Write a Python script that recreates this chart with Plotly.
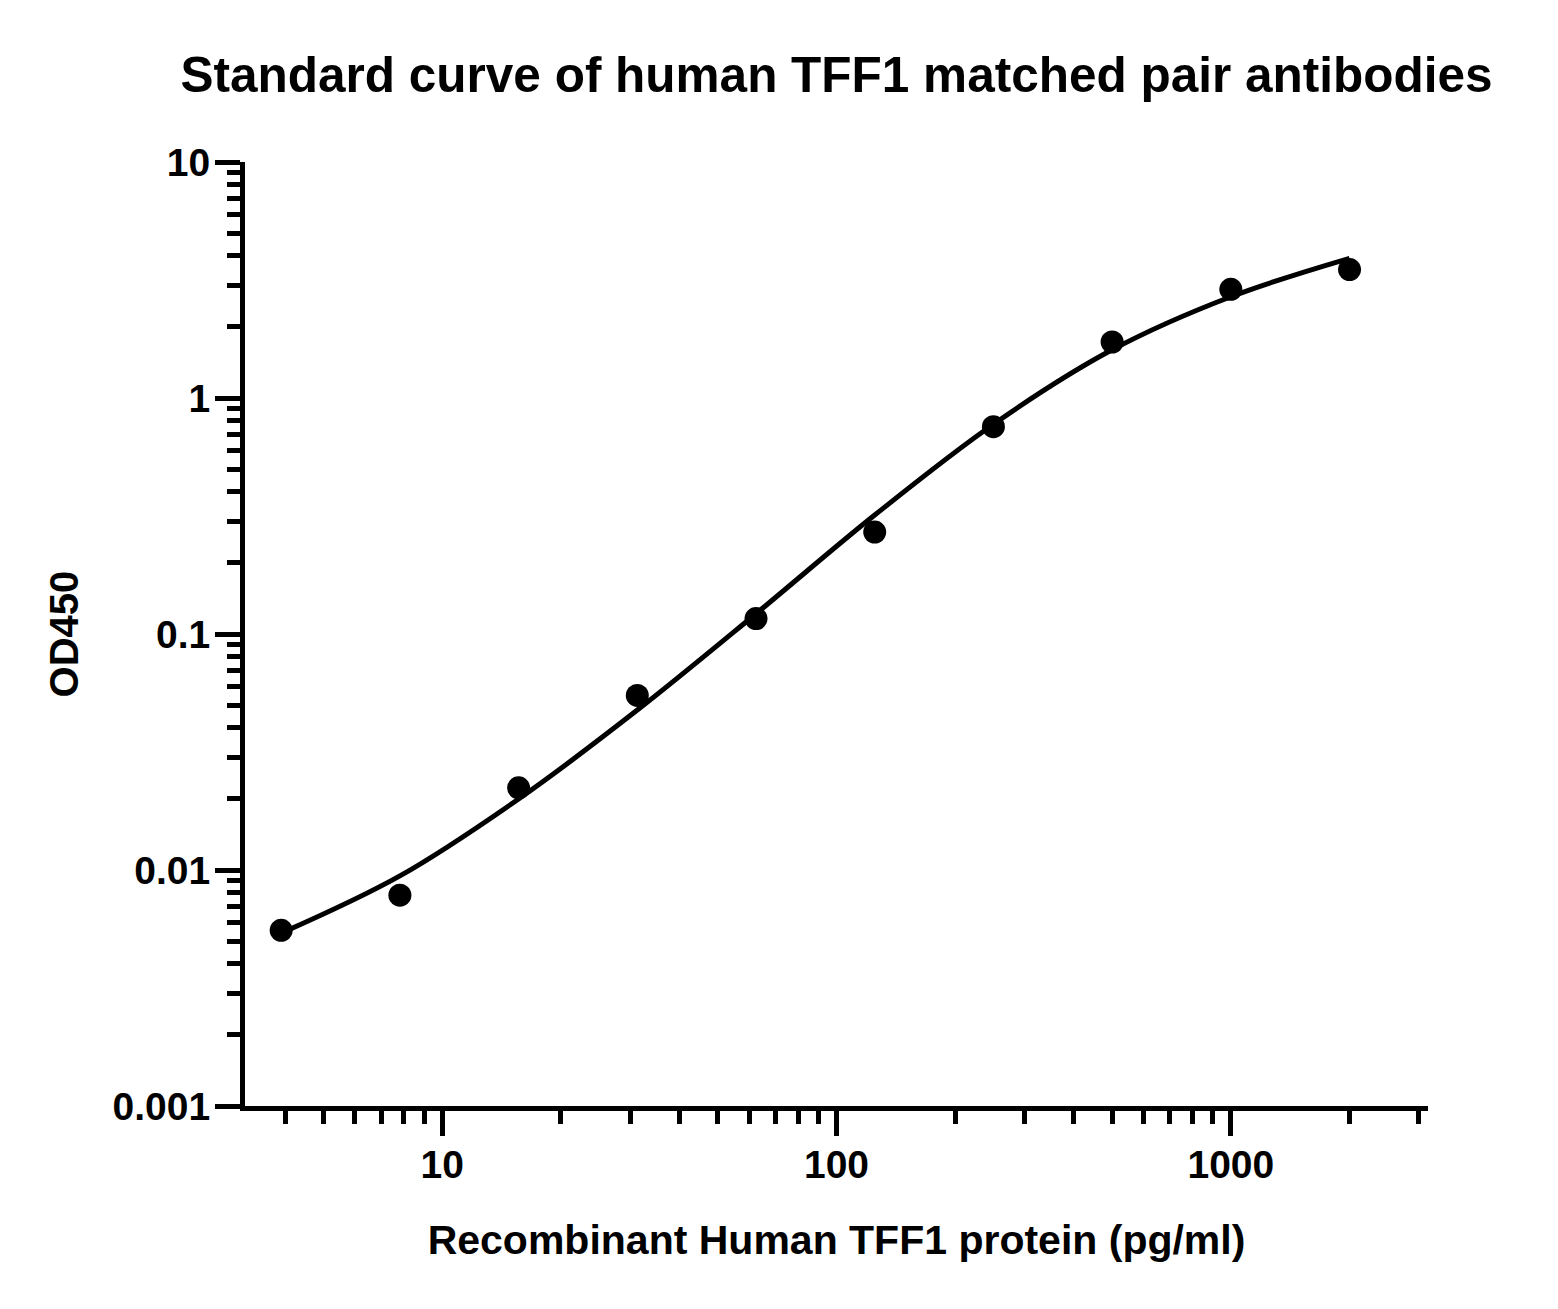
import plotly.graph_objects as go

# Standard points
conc = [3.906, 7.8125, 15.625, 31.25, 62.5, 125, 250, 500, 1000, 2000]
od450 = [0.00555, 0.00782, 0.0223, 0.0549, 0.1162, 0.2705, 0.756, 1.727, 2.888, 3.50]

# Fitted curve at the standard concentrations
curve_x = [3.906, 7.8125, 15.625, 31.25, 62.5, 125, 250, 500, 1000, 2000]
curve_y = [0.00540, 0.00944, 0.0200, 0.0476, 0.1219, 0.3192, 0.7745, 1.600, 2.685, 3.908]

x_major = [10, 100, 1000]
x_major_labels = ["10", "100", "1000"]
x_minor = [4, 5, 6, 7, 8, 9, 20, 30, 40, 50, 60, 70, 80, 90,
           200, 300, 400, 500, 600, 700, 800, 900, 2000, 3000]
y_major = [0.001, 0.01, 0.1, 1, 10]
y_major_labels = ["0.001", "0.01", "0.1", "1", "10"]
y_minor = [m * d for d in [0.001, 0.01, 0.1, 1] for m in range(2, 10)]

title_text = "Standard curve of human TFF1 matched pair antibodies"
x_title = "Recombinant Human TFF1 protein (pg/ml)"
y_title = "OD450"

FONT = "Liberation Sans, Arial, sans-serif"

fig = go.Figure()
fig.add_trace(go.Scatter(x=curve_x, y=curve_y, mode="lines",
                         line=dict(color="black", width=5, shape="spline", smoothing=1),
                         hoverinfo="skip", showlegend=False))
fig.add_trace(go.Scatter(x=conc, y=od450, mode="markers",
                         marker=dict(color="black", size=23, line=dict(width=0)),
                         showlegend=False, cliponaxis=False))

fig.update_layout(
    width=1558, height=1309,
    margin=dict(l=245, r=130, t=162, b=203, autoexpand=False),
    paper_bgcolor="white", plot_bgcolor="white",
    font=dict(family=FONT, color="black", weight="bold"),
    title=dict(text=title_text, x=0.5, xanchor="center", xref="paper",
               y=1 - 75 / 1309, yref="container", yanchor="middle",
               font=dict(size=49.5, family=FONT, weight="bold", color="black")),
    xaxis=dict(type="log", range=[0.5, 3.5], showgrid=False, zeroline=False,
               showline=True, linecolor="black", linewidth=5,
               ticks="outside", ticklen=25, tickwidth=4.5, tickcolor="black",
               tickmode="array", tickvals=x_major, ticktext=x_major_labels,
               ticklabelstandoff=-5,
               tickfont=dict(size=39, family=FONT, weight="bold", color="black"),
               minor=dict(tickmode="array", tickvals=x_minor, ticks="outside",
                          ticklen=13, tickwidth=4.5, tickcolor="black", showgrid=False),
               title=dict(text=x_title, standoff=42,
                          font=dict(size=41, family=FONT, weight="bold", color="black"))),
    yaxis=dict(type="log", range=[-3, 1], showgrid=False, zeroline=False,
               showline=True, linecolor="black", linewidth=5,
               ticks="outside", ticklen=25, tickwidth=4.5, tickcolor="black",
               tickmode="array", tickvals=y_major, ticktext=y_major_labels,
               ticklabelstandoff=-3,
               tickfont=dict(size=39, family=FONT, weight="bold", color="black"),
               minor=dict(tickmode="array", tickvals=y_minor, ticks="outside",
                          ticklen=13, tickwidth=4.5, tickcolor="black", showgrid=False),
               title=dict(text=y_title, standoff=23,
                          font=dict(size=40, family=FONT, weight="bold", color="black"))),
)

fig.write_html("out.html")
